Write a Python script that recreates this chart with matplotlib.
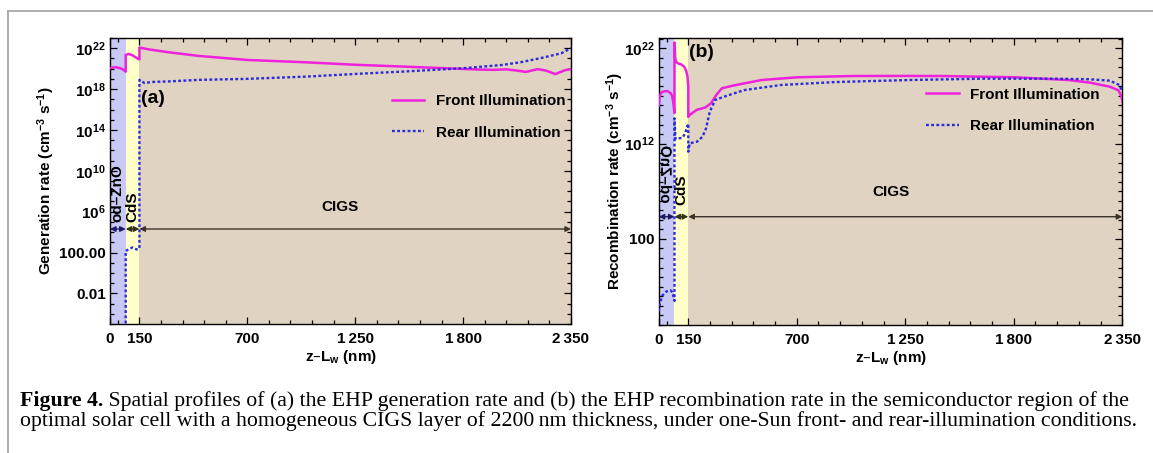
import numpy as np
import matplotlib
matplotlib.use('Agg')
import matplotlib.pyplot as plt
import matplotlib.transforms as mtransforms
from matplotlib.lines import Line2D
from matplotlib.ticker import FixedLocator, NullFormatter
from matplotlib.textpath import TextPath
from matplotlib.patches import PathPatch
from matplotlib.font_manager import FontProperties

plt.rcParams['font.family'] = ['Liberation Sans', 'DejaVu Sans']
plt.rcParams['font.weight'] = 'bold'
plt.rcParams['axes.labelweight'] = 'bold'
plt.rcParams['mathtext.default'] = 'regular'
plt.rcParams['font.size'] = 11

# layer boundaries (nm)
zno_end = 80
cds_end = 150
cigs_end = 2350

# x ticks
x_ticks = [0, 150, 700, 1250, 1800, 2350]
x_tick_labels = ['0', '150', '700', '1\u2009250', '1\u2009800', '2\u2009350']
x_minor = [40, 260, 370, 480, 590, 810, 920, 1030, 1140, 1360, 1470, 1580,
           1690, 1910, 2020, 2130, 2240]

# (a) generation rate, log10(cm^-3 s^-1)
gen_front_x = [0, 15, 30, 50, 65, 80, 80, 95, 115, 135, 150, 150, 200, 300,
               450, 700, 1000, 1250, 1500, 1800, 1870, 1950, 2020, 2070,
               2120, 2180, 2220, 2270, 2320, 2350]
gen_front_log = [20.04, 20.12, 20.14, 20.05, 19.94, 19.7, 21.34, 21.44, 21.3,
                 21.05, 20.9, 22.06, 21.88, 21.6, 21.25, 20.85, 20.62, 20.38,
                 20.2, 19.97, 19.92, 19.88, 19.93, 19.82, 19.68, 19.95, 19.82,
                 19.47, 19.85, 19.97]

gen_rear_x = [0, 40, 80, 80, 95, 115, 135, 150, 150, 175, 220, 300, 450, 700,
              1000, 1250, 1500, 1800, 2000, 2100, 2200, 2300, 2350]
gen_rear_log = [-9, -9, -9, 2.16, 2.3, 2.5, 2.3, 2.4, 18.9, 18.6, 18.7, 18.75,
                18.9, 19.0, 19.22, 19.48, 19.72, 20.04, 20.36, 20.65, 21.05,
                21.5, 22.0]

gen_yticks = [1e22, 1e18, 1e14, 1e10, 1e6, 1e2, 1e-2]
gen_ytick_labels = ['10$^{22}$', '10$^{18}$', '10$^{14}$', '10$^{10}$',
                    '10$^{6}$', '100.00', '0.01']
gen_ylim = (1e-5, 1e23)

# (b) recombination rate, log10(cm^-3 s^-1)
rec_front_x = [0, 5, 15, 30, 45, 60, 68, 74, 80, 80, 84, 90, 100, 115, 130,
               140, 146, 150, 150, 157, 192, 237, 265, 292, 320, 375, 521,
               704, 979, 1250, 1437, 1803, 2078, 2185, 2287, 2330, 2347, 2350]
rec_front_log = [16.0, 17.0, 17.4, 17.5, 17.5, 17.3, 17.0, 16.3, 15.2, 22.6,
                 20.9, 20.55, 20.4, 20.3, 20.05, 19.6, 19.0, 18.0, 14.8, 15.0,
                 15.53, 15.8, 16.23, 17.1, 17.8, 18.08, 18.67, 18.96, 19.09,
                 19.1, 19.09, 18.96, 18.67, 18.4, 17.97, 17.6, 16.9, 16.4]

rec_rear_x = [0, 8, 20, 40, 60, 70, 78, 80, 80, 85, 100, 120, 135, 143, 148,
              150, 150, 157, 194, 222, 240, 259, 286, 342, 435, 620, 898,
              1268, 1639, 2009, 2185, 2287, 2335, 2350]
rec_rear_log = [-5.6, -4.6, -3.9, -3.5, -3.4, -3.6, -4.3, -4.5, 14.65, 12.5,
                12.55, 12.6, 13.1, 13.77, 13.95, 14.1, 11.15, 12.03, 12.2,
                12.72, 13.6, 15.35, 16.58, 17.0, 17.62, 18.15, 18.46, 18.67,
                18.81, 18.81, 18.75, 18.6, 18.15, 17.45]

rec_yticks = [1e22, 1e12, 1e2]
rec_ytick_labels = ['10$^{22}$', '10$^{12}$', '100']
rec_ylim = (1e-7, 1.2e23)

# colours
c_zno = '#c9c9f6'
c_cds = '#ffffca'
c_cigs = '#e1d3c1'
c_front = '#ee22dd'
c_rear = '#2a2ade'

caption1_bold = 'Figure 4.'
caption1 = (' Spatial profiles of (a) the EHP generation rate and (b) the EHP '
            'recombination rate in the semiconductor region of the')
caption2 = ('optimal solar cell with a homogeneous CIGS layer of 2200\u2009nm '
            'thickness, under one-Sun front- and rear-illumination conditions.')

W, H = 1153, 453
fig = plt.figure(figsize=(W / 100, H / 100), dpi=100)


def px_axes(l, t, r, b):
    return fig.add_axes([l / W, 1 - b / H, (r - l) / W, (b - t) / H])


def mirrored_vtext(ax, x, y, s, size):
    fp = FontProperties(family='Liberation Sans', weight='bold')
    tp = TextPath((0, 0), s, size=size, prop=fp)
    ext = tp.get_extents()
    tr = (mtransforms.Affine2D().translate(-ext.x0, -(ext.y0 + ext.y1) / 2)
          .rotate_deg(90).scale(-1, 1).scale(fig.dpi / 72)
          + mtransforms.ScaledTranslation(x, y, ax.transData))
    ax.add_artist(PathPatch(tp, transform=tr, facecolor='black', lw=0))


def setup(ax, ylim, yticks, ylabels, ylabel, ylab_x):
    ax.set_yscale('log')
    ax.set_xlim(0, cigs_end)
    ax.set_ylim(ylim)
    ax.axvspan(0, zno_end, color=c_zno, lw=0, zorder=0)
    ax.axvspan(zno_end, cds_end, color=c_cds, lw=0, zorder=0)
    ax.axvspan(cds_end, cigs_end, color=c_cigs, lw=0, zorder=0)
    ax.xaxis.set_major_locator(FixedLocator(x_ticks))
    ax.set_xticklabels(x_tick_labels)
    ax.xaxis.set_minor_locator(FixedLocator(x_minor))
    ax.yaxis.set_major_locator(FixedLocator(yticks))
    ax.set_yticklabels(ylabels)
    lo, hi = int(np.floor(np.log10(ylim[0]))), int(np.ceil(np.log10(ylim[1])))
    ax.yaxis.set_minor_locator(FixedLocator([10.0 ** k for k in range(lo, hi + 1)]))
    ax.yaxis.set_minor_formatter(NullFormatter())
    ax.tick_params(which='both', direction='in', top=True, right=True,
                   labelsize=11, width=0.9)
    ax.tick_params(which='major', length=5)
    ax.tick_params(which='minor', length=3)
    ax.tick_params(axis='x', pad=6)
    ax.tick_params(axis='y', pad=3)
    for sp in ax.spines.values():
        sp.set_linewidth(1.0)
    ax.set_ylabel(ylabel, fontsize=11)
    ax.yaxis.set_label_coords(ylab_x, 0.5)
    ax.set_xlabel('z\u2013L$_w$ (nm)', fontsize=11)
    ax.xaxis.set_label_coords(0.5, -0.085)


def arrows(ax, y):
    for x0, x1, c in [(0, zno_end, '#1c1c60'), (zno_end, cds_end, '#30321a'),
                      (cds_end, cigs_end, '#3b3329')]:
        ax.annotate('', xy=(x1, y), xytext=(x0, y),
                    arrowprops=dict(arrowstyle='<|-|>', color=c, lw=1.0,
                                    mutation_scale=8, shrinkA=0, shrinkB=0))


# ---------- (a) ----------
ax1 = px_axes(110, 38, 571, 324)
setup(ax1, gen_ylim, gen_yticks, gen_ytick_labels,
      'Generation rate (cm$^{-3}$ s$^{-1}$)', -0.115)
ax1.plot(gen_front_x, 10.0 ** np.array(gen_front_log), color=c_front, lw=1.8,
         label='Front Illumination', zorder=3)
ax1.plot(gen_rear_x, 10.0 ** np.array(gen_rear_log), color=c_rear, lw=1.7,
         ls=(0, (1.2, 1.0)), label='Rear Illumination', zorder=4)
arrows(ax1, 10 ** 4.3)
ax1.text(40, 10 ** 5.0, 'od\u2013ZnO', rotation=90, ha='center', va='bottom',
         fontsize=11)
ax1.text(115, 10 ** 5.0, 'CdS', rotation=90, ha='center', va='bottom',
         fontsize=11)
ax1.text(1175, 10 ** 6.44, 'CIGS', ha='center', va='center', fontsize=11)
ax1.text(0.068, 0.787, '(a)', transform=ax1.transAxes, ha='left',
         va='center', fontsize=14)
ax1.legend(loc='upper left', bbox_to_anchor=(0.596, 0.83), frameon=False,
           handlelength=2.1, handletextpad=0.75, labelspacing=1.15,
           borderpad=0, fontsize=11)

# ---------- (b) ----------
ax2 = px_axes(658.7, 38, 1122.3, 324.7)
setup(ax2, rec_ylim, rec_yticks, rec_ytick_labels,
      'Recombination rate (cm$^{-3}$ s$^{-1}$)', -0.071)
ax2.plot(rec_front_x, 10.0 ** np.array(rec_front_log), color=c_front, lw=1.8,
         label='Front Illumination', zorder=3)
ax2.plot(rec_rear_x, 10.0 ** np.array(rec_rear_log), color=c_rear, lw=1.7,
         ls=(0, (1.2, 1.0)), label='Rear Illumination', zorder=4)
arrows(ax2, 10 ** 4.33)
mirrored_vtext(ax2, 40, 10 ** 5.77, 'od\u2013ZnO', 11)
ax2.text(115, 10 ** 5.56, 'CdS', rotation=90, ha='center', va='bottom',
         fontsize=11)
ax2.text(1175, 10 ** 6.9, 'CIGS', ha='center', va='center', fontsize=11)
ax2.text(0.065, 0.95, '(b)', transform=ax2.transAxes, ha='left',
         va='center', fontsize=14)
ax2.legend(loc='upper left', bbox_to_anchor=(0.561, 0.853), frameon=False,
           handlelength=2.1, handletextpad=0.75, labelspacing=1.15,
           borderpad=0, fontsize=11)

# ---------- frame ----------
fig.add_artist(Line2D([8 / W, 1], [1 - 11 / H, 1 - 11 / H], color='#a8a8a8',
                      lw=1.3, transform=fig.transFigure))
fig.add_artist(Line2D([8 / W, 8 / W], [0, 1 - 11 / H], color='#a8a8a8',
                      lw=1.3, transform=fig.transFigure))

# ---------- caption ----------
renderer = fig.canvas.get_renderer()
serif = ['Liberation Serif', 'DejaVu Serif']
fs = 12
t2 = fig.text(20 / W, 1 - 426 / H, caption2, family=serif, weight='normal',
              fontsize=fs, va='baseline', ha='left')
w2 = t2.get_window_extent(renderer).width
fs = fs * 1115 / w2
t2.set_fontsize(fs)
tb = fig.text(20 / W, 1 - 406 / H, caption1_bold, family=serif, weight='bold',
              fontsize=fs, va='baseline', ha='left')
wb = tb.get_window_extent(renderer).width
t1 = fig.text((20 + wb) / W, 1 - 406 / H, caption1, family=serif,
              weight='normal', fontsize=fs, va='baseline', ha='left')

fig.savefig('out.png', dpi=100)
